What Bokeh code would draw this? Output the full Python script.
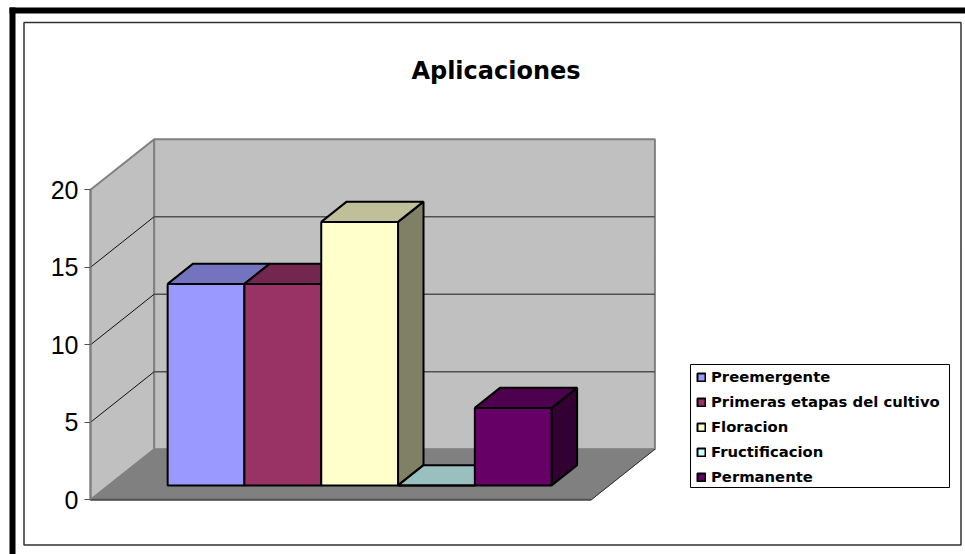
from bokeh.plotting import figure
from bokeh.embed import file_html
from bokeh.resources import INLINE
from bokeh.models import BoxAnnotation, FixedTicker, Label, Legend, LegendItem

TITLE = "Aplicaciones"
CATEGORIES = ["Preemergente", "Primeras etapas del cultivo", "Floracion", "Fructificacion", "Permanente"]
VALUES = [13, 13, 17, 0, 5]
TICKS = [0, 5, 10, 15, 20]
FRONT = ["#9999FF", "#993366", "#FFFFCC", "#CCFFFF", "#660066"]
TOP = ["#7373C0", "#732650", "#BFBF99", "#99BFBF", "#4D004D"]
SIDE = ["#4D4D80", "#4D1A33", "#808066", "#668080", "#330033"]

W, H = 965, 554
PX_X, PX_Y = 76.8, 15.5            # pixels per bar slot, pixels per value unit
AX_X, AX_Y = 90, 499.3             # canvas position of the axis origin
FLOOR_W = 500.7 / PX_X             # floor width in slots
DX, DY = 63.7 / PX_X, 50.6 / PX_Y  # full depth vector in data units
GAP = 0.768                        # space from floor edge to first bar
D0, D1 = 0.285, 0.685              # depth range of the bars
YMAX = 20


def at(x, v, d):
    return x + d * DX, v + d * DY


def poly(points):
    xy = [at(*pt) for pt in points]
    return [q[0] for q in xy], [q[1] for q in xy]


def box(l, r, t, b, **kw):
    # pixel rectangle; annotation screen y counts from the canvas bottom
    return BoxAnnotation(left=l, right=r, top=H - t, bottom=H - b,
                         left_units="screen", right_units="screen", top_units="screen", bottom_units="screen",
                         level="underlay", **kw)


p = figure(
    width=W, height=H, output_backend="svg", toolbar_location=None,
    x_range=(-AX_X / PX_X, (W - AX_X) / PX_X),
    y_range=((AX_Y - H) / PX_Y, AX_Y / PX_Y),
    min_border=0, outline_line_color=None, background_fill_color="white",
    border_fill_color="white", x_axis_location=None,
)
p.xgrid.visible = False
p.ygrid.visible = False

# page frames
for l, r, t, b in [(9, 15, 7, 554), (9, 965, 7, 13)]:
    p.add_layout(box(l, r, t, b, fill_color="black", fill_alpha=1, line_alpha=0))
p.add_layout(box(23.5, 960.5, 22, 544.5, fill_alpha=0, line_color="#303030", line_alpha=1, line_width=1.5))
# legend box
p.add_layout(box(690, 949, 364, 487, fill_color="white", fill_alpha=1, line_color="black", line_alpha=1, line_width=1))

# walls
wx, wy = poly([(0, 0, 0), (0, YMAX, 0), (0, YMAX, 1), (0, 0, 1)])
bx, by = poly([(0, 0, 1), (0, YMAX, 1), (FLOOR_W, YMAX, 1), (FLOOR_W, 0, 1)])
p.patches([wx, bx], [wy, by], fill_color="#C0C0C0", line_color="#808080", line_width=2)
fx, fy = poly([(0, 0, 0), (FLOOR_W, 0, 0), (FLOOR_W, 0, 1), (0, 0, 1)])
p.patch(fx, fy, fill_color="#808080", line_color="#808080", line_width=1)
# floor edges
ex, ey = poly([(0, 0, 0), (FLOOR_W, 0, 0)])
p.line(ex, ey, line_color="#505050", line_width=2)
ex, ey = poly([(FLOOR_W, 0, 0), (FLOOR_W, 0, 1)])
p.line(ex, ey, line_color="#303030", line_width=1)

# grid lines
for t in TICKS[1:-1]:
    gx, gy = poly([(0, t, 0), (0, t, 1)])
    p.line(gx, gy, line_color="#101010", line_width=1)
    gx, gy = poly([(0, t, 1), (FLOOR_W, t, 1)])
    p.line(gx, gy, line_color="#505050", line_width=1.5)

# bars
xs, ys, cs = [], [], []
fxs, fys = [], []
for i, v in enumerate(VALUES):
    a, b = GAP + i, GAP + i + 1
    sx, sy = poly([(b, 0, D0), (b, v, D0), (b, v, D1), (b, 0, D1)])
    xs.append(sx); ys.append(sy); cs.append(SIDE[i])
    tx, ty = poly([(a, v, D0), (b, v, D0), (b, v, D1), (a, v, D1)])
    xs.append(tx); ys.append(ty); cs.append(TOP[i])
    qx, qy = poly([(a, 0, D0), (a, v, D0), (b, v, D0), (b, 0, D0)])
    fxs.append(qx); fys.append(qy)
p.patches(xs, ys, fill_color=cs, line_color="black", line_width=2)
front = p.patches(fxs, fys, fill_color=FRONT, line_color="black", line_width=2)

# value axis
ax = p.yaxis[0]
ax.fixed_location = 0
ax.ticker = FixedTicker(ticks=TICKS)
ax.bounds = (TICKS[0], TICKS[-1])
ax.axis_line_color = "#808080"
ax.axis_line_width = 2
ax.major_tick_line_color = "#505050"
ax.major_tick_out = 6
ax.major_tick_in = 0
ax.minor_tick_line_color = None
ax.major_label_text_font = "Liberation Sans"
ax.major_label_text_font_size = "25px"
ax.major_label_text_color = "black"
ax.major_label_standoff = 6

# title
p.add_layout(Label(x=(495.5 - AX_X) / PX_X, y=(AX_Y - 70) / PX_Y, text=TITLE, text_align="center",
                   text_baseline="alphabetic", text_font="DejaVu Sans", text_font_style="bold",
                   text_font_size="24px", text_color="black"))

# legend
legend = Legend(
    items=[LegendItem(label=c, renderers=[front], index=i) for i, c in enumerate(CATEGORIES)],
    location=(690, 63), margin=0, padding=6, spacing=8, label_height=15, glyph_height=10, glyph_width=10,
    label_standoff=5, label_text_font="DejaVu Sans", label_text_font_style="bold", label_text_font_size="14.8px",
    label_text_color="black", border_line_alpha=0, background_fill_alpha=0,
)
p.add_layout(legend)

open("out.html", "w").write(file_html(p, INLINE))
